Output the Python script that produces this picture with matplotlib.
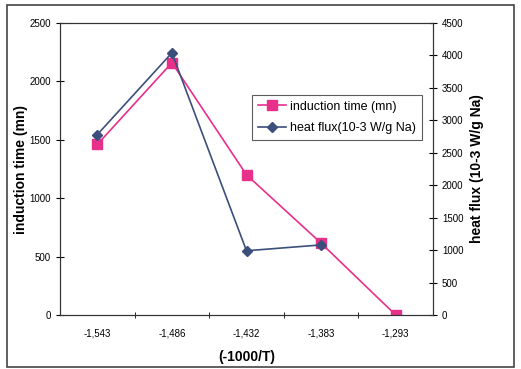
import matplotlib
matplotlib.use('Agg')
import matplotlib.pyplot as plt
from matplotlib.patches import Rectangle

plt.rcParams['font.family'] = ['Liberation Sans', 'DejaVu Sans']

categories = ['-1,543', '-1,486', '-1,432', '-1,383', '-1,293']
induction_time = [1460, 2160, 1200, 615, 0]
heat_flux = [2780, 4040, 990, 1080]

pink = '#e8308a'
navy = '#3c4f7c'

fig = plt.figure(figsize=(5.21, 3.69), dpi=100)
fig.patches.append(Rectangle((7 / 521, 1 - 367 / 369), 507 / 521, 362 / 369,
                             transform=fig.transFigure, fill=False,
                             edgecolor='#444444', linewidth=1.2))

ax = fig.add_axes([60 / 521, 1 - 315 / 369, 373 / 521, 292 / 369])
ax2 = ax.twinx()

x = list(range(len(categories)))
l1, = ax.plot(x, induction_time, color=pink, marker='s', markersize=6.5, linewidth=1.2,
              label='induction time (mn)')
l2, = ax2.plot(x[:len(heat_flux)], heat_flux, color=navy, marker='D', markersize=5.5,
               linewidth=1.2, label='heat flux(10-3 W/g Na)')

ax.set_xlim(-0.5, 4.5)
ax.set_ylim(0, 2500)
ax2.set_ylim(0, 4500)
ax.set_xticks(x)
ax.set_xticklabels(categories)
ax.set_xticks([i + 0.5 for i in x[:-1]], minor=True)
ax.tick_params(axis='x', which='major', length=0, labelsize=7, pad=10)
ax.tick_params(axis='x', which='minor', length=5, direction='inout')
ax.set_yticks(range(0, 2501, 500))
ax.tick_params(axis='y', direction='inout', length=6, labelsize=7)
ax2.set_yticks(range(0, 4501, 500))
ax2.tick_params(axis='y', direction='inout', length=6, labelsize=7)

for a in (ax, ax2):
    for s in a.spines.values():
        s.set_linewidth(0.8)
        s.set_color('#333333')

ax.set_ylabel('induction time (mn)', fontsize=10, fontweight='bold', labelpad=1)
ax2.set_ylabel('heat flux (10-3 W/g Na)', fontsize=10, fontweight='bold', labelpad=5)
ax.set_xlabel('(-1000/T)', fontsize=10, fontweight='bold', labelpad=8)

leg = ax.legend(handles=[l1, l2], loc='upper left', bbox_to_anchor=(0.515, 0.755),
                fontsize=9, frameon=True, fancybox=False, edgecolor='#333333',
                borderpad=0.5, handlelength=2.2, handletextpad=0.3, labelspacing=0.75,
                borderaxespad=0)
leg.get_frame().set_linewidth(0.8)

fig.savefig('out.png', dpi=100)
